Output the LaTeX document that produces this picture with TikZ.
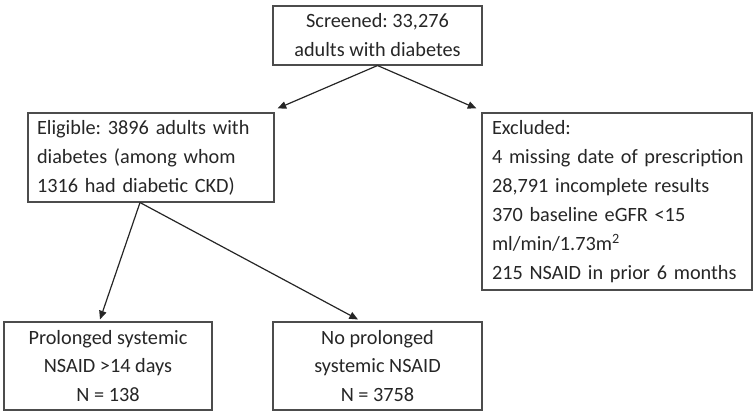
\documentclass[tikz,border=0pt]{standalone}
\usepackage{fontspec}
\setmainfont{Carlito}
\frenchspacing
\usetikzlibrary{arrows.meta,calc}
\begin{document}
\begin{tikzpicture}[x=0.75pt,y=-0.75pt,
  every node/.style={font=\fontsize{15.2pt}{21.7pt}\selectfont, text=black!85},
  box/.style={draw=black!70, line width=0.8pt, inner sep=0pt, align=center},
  lbox/.style={box, align=left},
  arr/.style={draw=black!85, line width=0.9pt, -{Triangle[length=6.5pt,width=5.5pt]}}]
\useasboundingbox (0,0) rectangle (755,414);
\node[box, minimum width=156.75pt, minimum height=44.25pt] (scr) at (377.5,35.5)
  {Screened: 33,276\\adults with diabetes};
\node[lbox, minimum width=184.5pt, minimum height=66.75pt, text width=171pt] (elig) at (151,157.5)
  {Eligible: 3896 adults with\\diabetes (among whom\\1316 had diabetic CKD)};
\node[lbox, minimum width=202.5pt, minimum height=132.75pt, text width=187.5pt] (excl) at (617,201.5)
  {\mbox{Excluded:}\\\mbox{4 missing date of prescription}\\\mbox{28,791 incomplete results}\\\mbox{370 baseline eGFR <15}\\\mbox{ml/min/1.73m\textsuperscript{2}}\\\mbox{215 NSAID in prior 6 months}};
\node[box, minimum width=156pt, minimum height=66pt] (prol) at (108,366)
  {Prolonged systemic\\NSAID >14 days\\N = 138};
\node[box, minimum width=156.75pt, minimum height=66pt] (nopr) at (377.5,366)
  {No prolonged\\systemic NSAID\\N = 3758};
\draw[arr] (scr.south) -- ($(elig.north east)+(3,-4)$);
\draw[arr] (scr.south) -- ($(excl.north west)+(-5,-4)$);
\draw[arr] ($(elig.south)+(-11,0)$) -- ($(prol.north)+(-8,-2)$);
\draw[arr] ($(elig.south)+(-11,0)$) -- ($(nopr.north)+(-19.5,-2)$);
\end{tikzpicture}
\end{document}
